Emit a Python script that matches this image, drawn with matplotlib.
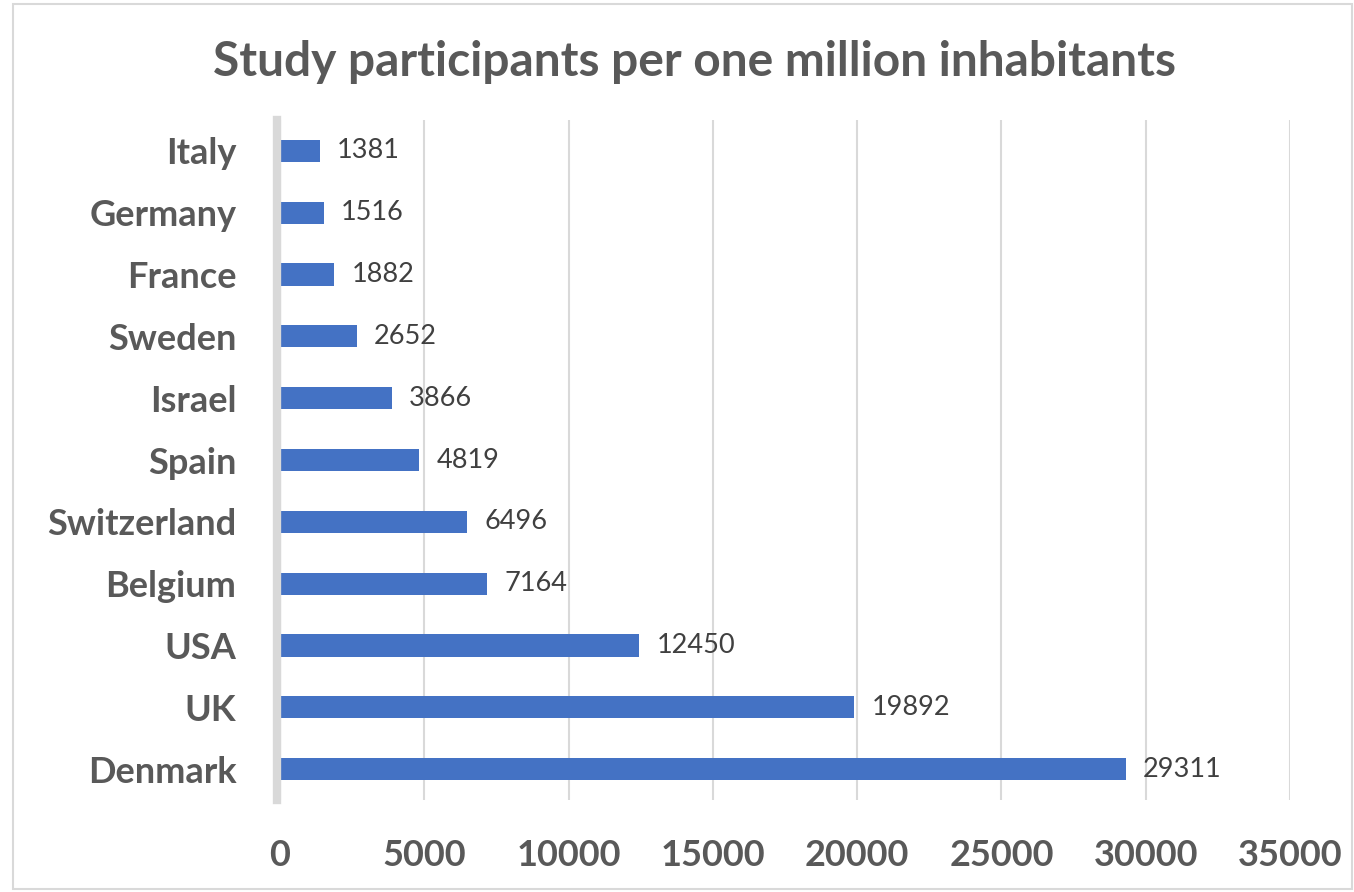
import matplotlib
matplotlib.use("Agg")
import matplotlib.pyplot as plt
from matplotlib.patches import Rectangle

countries = ["Italy", "Germany", "France", "Sweden", "Israel", "Spain",
             "Switzerland", "Belgium", "USA", "UK", "Denmark"]
participants = [1381, 1516, 1882, 2652, 3866, 4819, 6496, 7164, 12450, 19892, 29311]
x_ticks = [0, 5000, 10000, 15000, 20000, 25000, 30000, 35000]

plt.rcParams["font.family"] = ["Lato", "DejaVu Sans"]

fig = plt.figure(figsize=(13.54, 8.92), dpi=100)
ax = fig.add_axes([0.2068, 0.1031, 0.7459, 0.7624])

# thin light border around the whole chart
fig.patches.append(Rectangle((0.0096, 0.003), 0.989, 0.992, transform=fig.transFigure,
                             fill=False, edgecolor="#d9d9d9", linewidth=1.5))

# left axis line (thick light gray), placed before ticks since it resets them
for s in ["top", "right", "bottom"]:
    ax.spines[s].set_visible(False)
ax.spines["left"].set_color("#d9d9d9")
ax.spines["left"].set_linewidth(6)
ax.spines["left"].set_position(("data", -120))
ax.spines["left"].set_zorder(4)

y = list(range(len(countries)))
ax.barh(y, participants, height=0.36, color="#4472c4", zorder=3)

for yi, v in zip(y, participants):
    ax.text(v + 600, yi, str(v), va="center", ha="left",
            fontsize=19.5, color="#404040")

ax.set_ylim(len(countries) - 0.5, -0.5)
ax.set_xlim(0, 35000)
ax.set_xticks(x_ticks)
ax.set_xticklabels([str(t) for t in x_ticks])
ax.set_yticks(y)
ax.set_yticklabels(countries)
ax.tick_params(axis="both", length=0, labelsize=26, labelcolor="#595959")
for lbl in ax.get_xticklabels() + ax.get_yticklabels():
    lbl.set_fontweight("bold")
ax.tick_params(axis="y", pad=29)
ax.tick_params(axis="x", pad=28)

ax.grid(axis="x", color="#d9d9d9", linewidth=1.5, zorder=0)

fig.text(0.513, 0.930, "Study participants per one million inhabitants",
         ha="center", va="center", fontsize=34.5, fontweight="bold", color="#595959")

fig.savefig("out.png", dpi=100)
